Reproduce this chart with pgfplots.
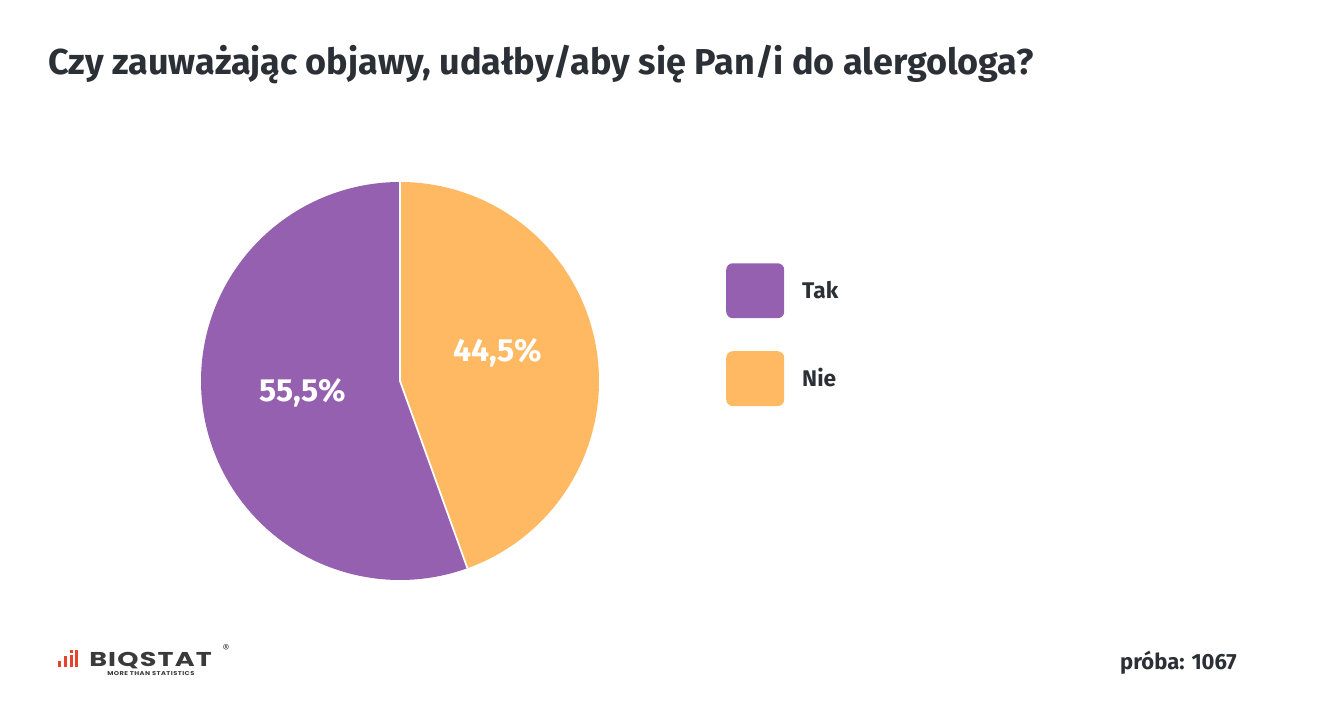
\documentclass[border=0pt]{standalone}
\usepackage{fontspec}
\setmainfont{Fira Sans}
\newfontfamily\logofont{Poppins}[FakeStretch=1.35, LetterSpace=6]
\newfontfamily\logosmall{Poppins}[FakeStretch=1.2, LetterSpace=8]
\usepackage{pgfplots}
\usepackage{pgfplotstable}
\pgfplotsset{compat=1.18}
\definecolor{tak}{HTML}{9560B0}
\definecolor{nie}{HTML}{FFB963}
\definecolor{txt}{HTML}{2B2F36}
\definecolor{logored}{HTML}{E8412C}
\definecolor{logogray}{HTML}{3A3A3A}

\pgfplotstableread{
label value
Tak 55.5
Nie 44.5
}\piedata
\pgfplotstablegetelem{0}{value}\of\piedata \let\vTak\pgfplotsretval
\pgfplotstablegetelem{1}{value}\of\piedata \let\vNie\pgfplotsretval
\pgfmathsetmacro{\aStart}{90}
\pgfmathsetmacro{\aMid}{90+3.6*\vTak}
\pgfmathsetmacro{\aEnd}{\aMid+3.6*\vNie}

\begin{document}
\begin{tikzpicture}[x=0.75pt,y=0.75pt]
\path[fill=white] (0,0) rectangle (1330,725);
\node[anchor=base west, inner sep=0pt, text=txt, font=\fontsize{27}{32}\selectfont\bfseries] at (48,650) {Czy zauważając objawy, udałby/aby się Pan/i do alergologa?};
\begin{axis}[
  at={(300pt,258pt)}, anchor=center,
  width=298.5pt, height=298.5pt, scale only axis,
  hide axis, clip=false,
  xmin=-1, xmax=1, ymin=-1, ymax=1,
  legend style={at={(axis cs:1.638,0.593)}, anchor=north west, draw=none, fill=none,
     inner sep=0pt, row sep=24.75pt, cells={anchor=west},
     font=\fontsize{17}{20}\selectfont\bfseries, text=txt,
     nodes={inner sep=0pt, text=txt},
     /tikz/every odd column/.append style={column sep=13.5pt}},
  legend image code/.code={\path[#1, rounded corners=5pt] (0pt,-20.6pt) rectangle (43.5pt,20.6pt);},
]
\addplot[draw=none, fill=tak, domain=\aStart:\aMid, samples=150] ({cos(x)},{sin(x)}) -- (axis cs:0,0) -- cycle;
\addlegendentry{Tak}
\addplot[draw=none, fill=nie, domain=\aMid:\aEnd, samples=150] ({cos(x)},{sin(x)}) -- (axis cs:0,0) -- cycle;
\addlegendentry{Nie}
\addplot[white, line width=1.3pt, forget plot] coordinates {(0,1) (0,0) (0.3387,-0.9409)};
\node[text=white, font=\fontsize{24}{28}\selectfont\bfseries] at (axis cs:-0.49,-0.06) {55,5\%};
\node[text=white, font=\fontsize{24}{28}\selectfont\bfseries] at (axis cs:0.49,0.14) {44,5\%};
\end{axis}
% footer
\node[anchor=base east, inner sep=0pt, text=txt, font=\fontsize{16.5}{20}\selectfont\bfseries] at (1237,56) {próba: 1067};
% logo
\fill[logored] (58,58) rectangle (61,64);
\fill[logored] (64,58) rectangle (67,69);
\fill[logored] (70,58) rectangle (73,70);
\fill[logored] (70,72) rectangle (73,75);
\fill[logored] (75,58) rectangle (78,75);
\node[anchor=base west, inner sep=0pt, text=logogray, font=\logofont\fontsize{15}{18}\selectfont\bfseries] at (89,59) {BIQSTAT};
\node[anchor=base west, inner sep=0pt, text=logogray, font=\logosmall\fontsize{4.2}{5}\selectfont\bfseries] at (107,50) {MORE THAN STATISTICS};
\node[inner sep=0pt, text=logogray, font=\fontsize{8}{9}\selectfont] at (226,77) {®};
\end{tikzpicture}
\end{document}
